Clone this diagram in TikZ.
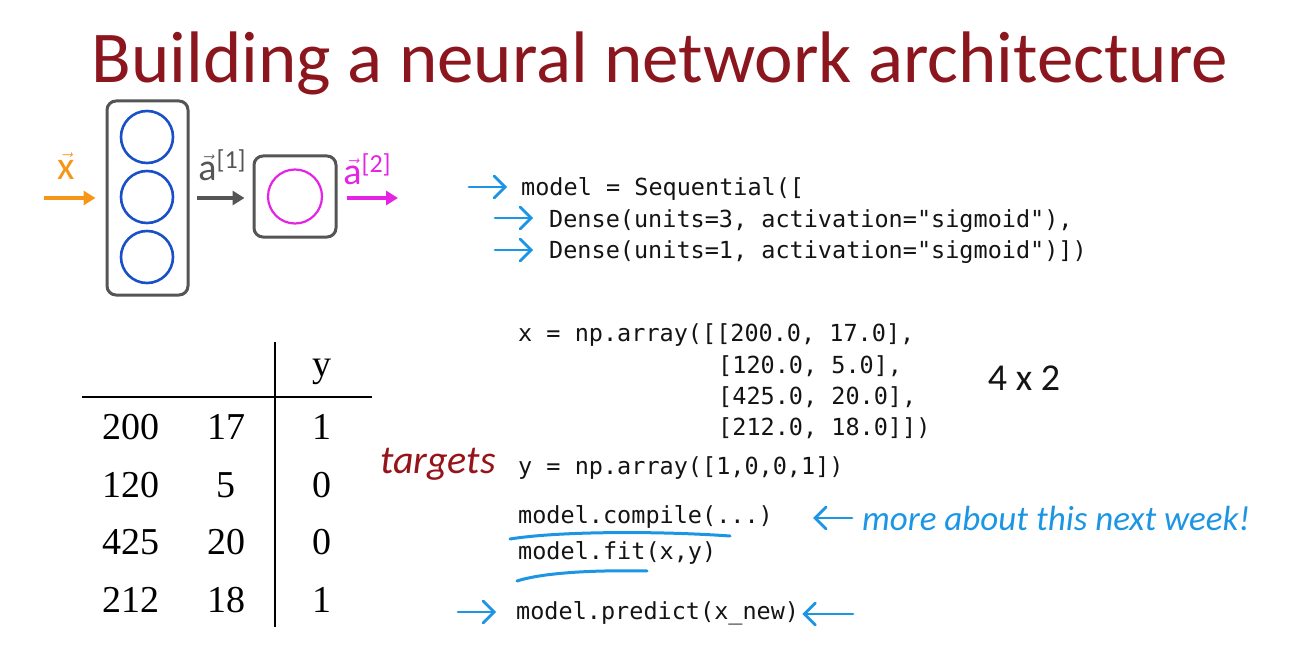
\documentclass[tikz,border=0pt]{standalone}
\usepackage{fontspec}
\setmainfont{Carlito}
\newfontfamily\codefont{DejaVu Sans Mono}
\newfontfamily\numfont{Liberation Serif}
\usetikzlibrary{arrows.meta}
\definecolor{titlered}{RGB}{139,22,30}
\definecolor{handblue}{RGB}{28,150,228}
\definecolor{layerblue}{RGB}{25,80,200}
\definecolor{outmag}{RGB}{228,35,228}
\definecolor{inorange}{RGB}{245,150,25}
\definecolor{boxgray}{RGB}{85,85,85}
\definecolor{codegray}{RGB}{20,20,20}
\definecolor{handred}{RGB}{150,20,25}
\newcommand{\veclab}[1]{{\fontsize{38}{44}\selectfont$\vec{\mathrm{a}}$}\raisebox{12pt}{\fontsize{26}{30}\selectfont[#1]}}

\begin{document}
\begin{tikzpicture}[x=1pt,y=-1pt,
	code/.style={anchor=base west, inner sep=0pt, text=codegray, font=\codefont\fontsize{23.5}{28}\selectfont},
	tab/.style={inner sep=0pt, text=black, font=\numfont\fontsize{38}{44}\selectfont},
	hand/.style={inner sep=0pt, font=\itshape\fontsize{35}{40}\selectfont},
	layerbox/.style={draw=boxgray, line width=3pt, rounded corners=9pt},
	neuron/.style={circle, draw, line width=2.6pt, minimum size=52pt, inner sep=0pt},
	handarrow/.style={handblue, line width=2.8pt, line cap=round, -{Straight Barb[length=11pt,width=22pt,line cap=round]}}]
		\useasboundingbox (0,0) rectangle (1315,650);
		% title
		\node[text=titlered, anchor=base, font=\fontsize{73}{86}\selectfont] (title) at (660,83) {Building a neural network architecture};

		% network
		\node[layerbox, minimum width=81pt, minimum height=194pt] (L1) at (147.5,198) {};
		\node[neuron, draw=layerblue] (n1) at (147,137) {};
		\node[neuron, draw=layerblue] (n2) at (147,197) {};
		\node[neuron, draw=layerblue] (n3) at (147,257) {};
		\node[layerbox, minimum width=82pt, minimum height=81pt] (L2) at (295,196.5) {};
		\node[neuron, draw=outmag, line width=2.2pt, minimum size=54pt] (m1) at (295,196.5) {};
		\coordinate (xin) at (44,198);
		\coordinate (aout) at (398,198);
		\draw[inorange, line width=4pt, -{Triangle[length=12pt,width=14pt]}] (xin) -- (L1.west |- xin) [shorten >=10pt];
		\draw[boxgray, line width=4pt, -{Triangle[length=12pt,width=14pt]}, shorten <=7pt, shorten >=8pt] (L1.east |- xin) -- (L2.west |- xin);
		\draw[outmag, line width=4pt, -{Triangle[length=12pt,width=14pt]}, shorten <=9pt] (L2.east |- aout) -- (aout);
		\node[text=inorange, font=\fontsize{40}{46}\selectfont] (xlab) at (66,166) {$\vec{\mathrm{x}}$};
		\node[text=boxgray] (a1lab) at (222,165) {\veclab{1}};
		\node[text=outmag] (a2lab) at (367,169) {\veclab{2}};

		% model definition
		\node[code] (seq) at (521,196) {model = Sequential([};
		\node[code] (d1) at (549,227) {Dense(units=3, activation="sigmoid"),};
		\node[code] (d2) at (549,258) {Dense(units=1, activation="sigmoid")])};
		\coordinate (s0) at (469,187);
		\coordinate (s1) at (495,218);
		\coordinate (s2) at (495,250);
		\draw[handarrow] (s0) -- ([xshift=-14pt]seq.west |- s0);
		\draw[handarrow] (s1) -- ([xshift=-16pt]d1.west |- s1);
		\draw[handarrow] (s2) -- ([xshift=-16pt]d2.west |- s2);

		% data
		\node[code] (xa) at (518,341) {x = np.array([[200.0, 17.0],};
		\node[code] (xb) at (718,373) {[120.0, 5.0],};
		\node[code] (xc) at (718,404) {[425.0, 20.0],};
		\node[code] (xd) at (718,435) {[212.0, 18.0]])};
		\node[text=codegray, font=\fontsize{38}{44}\selectfont] (shape) at (1024,378) {4 x 2};
		\node[code] (ya) at (518,474) {y = np.array([1,0,0,1])};
		\node[hand, text=handred, anchor=east, font=\itshape\fontsize{40}{46}\selectfont] (targets) at (496,464) {targets};

		% compile / fit / predict
		\node[code] (comp) at (518,523) {model.compile(...)};
		\node[code] (fit) at (518,559) {model.fit(x,y)};
		\node[code] (pred) at (516,619) {model.predict(x\_new)};
		\node[hand, text=handblue, anchor=west] (more) at (862,518) {more about this next week!};
		\draw[handarrow] (more.west) ++(-10pt,0) coordinate (m0) -- (comp.east |- m0) [shorten >=40pt];
		\draw[handblue, line width=3pt, line cap=round] (510,539) .. controls (560,531) and (660,531) .. (730,536);
		\draw[handblue, line width=3pt, line cap=round] (517,581) .. controls (545,572) and (600,570) .. (647,571);
		\coordinate (p0) at (458,612);
		\coordinate (p1) at (853,614);
		\draw[handarrow] (p0) -- ([xshift=-20pt]pred.west |- p0);
		\draw[handarrow] (p1) -- ([xshift=3pt]pred.east |- p1);

		% table
		\node[tab] (yh) at (322,372) {y};
		\node[tab] (r1a) at (131,427) {200};
		\node[tab] (r1b) at (226,427) {17};
		\node[tab] (r1c) at (322,427) {1};
		\node[tab] (r2a) at (131,485) {120};
		\node[tab] (r2b) at (226,485) {5};
		\node[tab] (r2c) at (322,485) {0};
		\node[tab] (r3a) at (131,542) {425};
		\node[tab] (r3b) at (226,542) {20};
		\node[tab] (r3c) at (322,542) {0};
		\node[tab] (r4a) at (131,600) {212};
		\node[tab] (r4b) at (226,600) {18};
		\node[tab] (r4c) at (322,600) {1};
		\coordinate (vt) at (275,342);
		\coordinate (vb) at (275,627);
		\coordinate (hl) at (82,397);
		\coordinate (hr) at (372,397);
		\draw[line width=1.6pt] (vt) -- (vb);
		\draw[line width=1.6pt] (hl) -- (hr);
\end{tikzpicture}
\end{document}
